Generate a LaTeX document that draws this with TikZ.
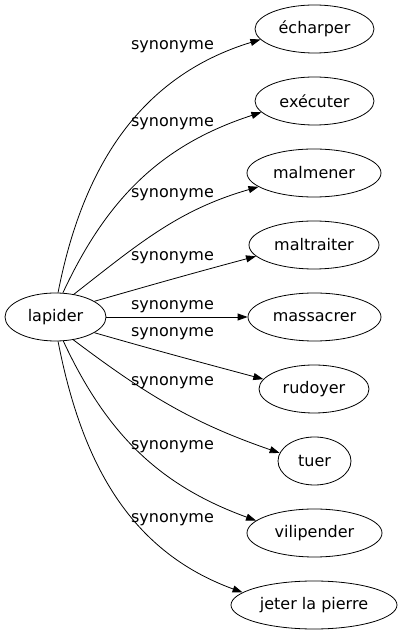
\documentclass[tikz,border=0pt]{standalone}
\usepackage{fontspec}
\setmainfont{DejaVu Sans}
\usetikzlibrary{arrows.meta,shapes.geometric}

\begin{document}
\begin{tikzpicture}[
		x=1pt, y=1pt,
		word/.style={draw, ellipse, line width=0.8pt, inner sep=0pt, minimum height=48pt, font=\fontsize{16}{18}\selectfont},
		syn/.style={line width=0.8pt, -{Triangle[length=10pt,width=7pt]}},
		rel/.style={font=\fontsize{16}{18}\selectfont, inner sep=0pt},
	]
		\useasboundingbox (0,0) rectangle (403,635);

		\node[word, minimum width=101pt] (lapider) at (55.5,318) {lapider};

		\node[word, minimum width=119pt] (echarper) at (314.5,606) {écharper};
		\node[word, minimum width=119pt] (executer) at (314.5,534) {exécuter};
		\node[word, minimum width=134pt] (malmener) at (314,462) {malmener};
		\node[word, minimum width=130pt] (maltraiter) at (314,390) {maltraiter};
		\node[word, minimum width=133pt] (massacrer) at (314.5,318) {massacrer};
		\node[word, minimum width=110pt] (rudoyer) at (314,246) {rudoyer};
		\node[word, minimum width=73pt] (tuer) at (314.5,174) {tuer};
		\node[word, minimum width=135pt] (vilipender) at (314.5,102) {vilipender};
		\node[word, minimum width=166pt] (jeter) at (314,30) {jeter la pierre};

		\draw[syn] (lapider.84) to[out=79, in=197] (echarper.191);
		\draw[syn] (lapider.73) to[out=65, in=198] (executer.192);
		\draw[syn] (lapider.51) to[out=38, in=196] (malmener.194);
		\draw[syn] (lapider.22) to[out=16, in=195] (maltraiter.191);
		\draw[syn] (lapider) -- (massacrer);
		\draw[syn] (lapider.-22) to[out=-16, in=165] (rudoyer.169);
		\draw[syn] (lapider.-52) to[out=-37, in=161] (tuer.167);
		\draw[syn] (lapider.-72) to[out=-65, in=160] (vilipender.168);
		\draw[syn] (lapider.-84) to[out=-79, in=160] (jeter.170);

		\node[rel] (l1) at (172.5,588) {synonyme};
		\node[rel] (l2) at (172.5,511) {synonyme};
		\node[rel] (l3) at (172.5,440) {synonyme};
		\node[rel] (l4) at (172.5,377) {synonyme};
		\node[rel] (l5) at (172.5,328) {synonyme};
		\node[rel] (l6) at (172.5,301) {synonyme};
		\node[rel] (l7) at (172.5,252) {synonyme};
		\node[rel] (l8) at (172.5,188) {synonyme};
		\node[rel] (l9) at (172.5,115) {synonyme};
	\end{tikzpicture}
\end{document}
